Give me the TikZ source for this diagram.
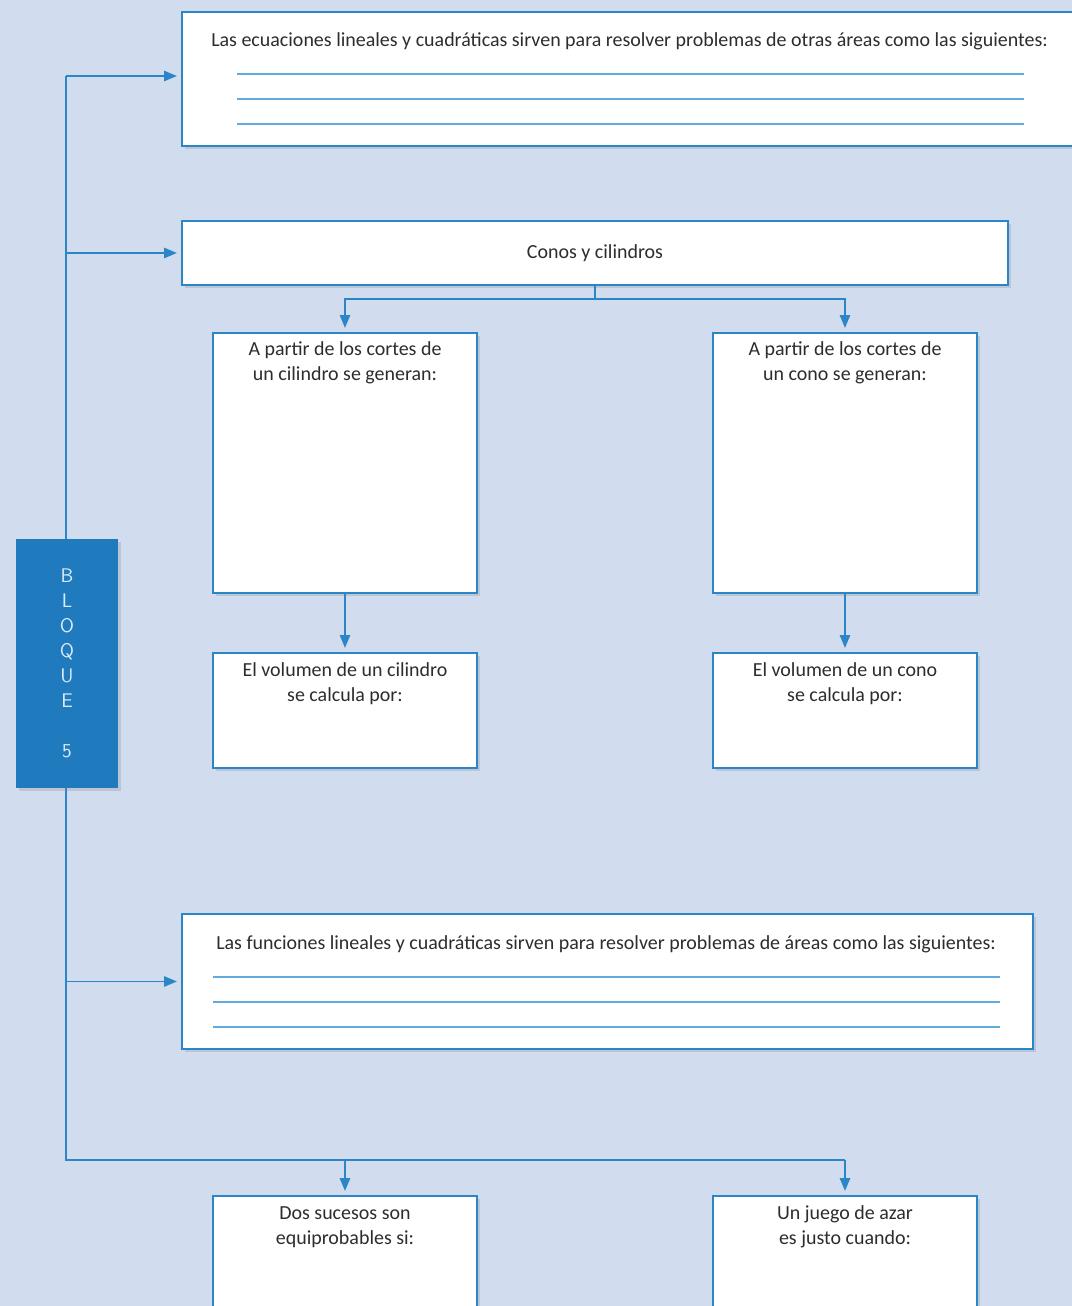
\documentclass[tikz,border=0pt]{standalone}
\usepackage{fontspec}
\setmainfont{Carlito}
\usetikzlibrary{arrows,shadows}

\definecolor{fondo}{RGB}{209,221,239}
\definecolor{azul}{RGB}{42,134,198}
\definecolor{azulbloque}{RGB}{31,123,190}
\definecolor{renglon}{RGB}{96,170,222}
\definecolor{gristexto}{RGB}{45,45,45}

\tikzset{
  caja/.style={rectangle,draw=azul,line width=1.4pt,fill=white,anchor=north west,inner sep=0pt,
    drop shadow={shadow xshift=2pt,shadow yshift=-2pt,opacity=0.25}},
  texto/.style={text=gristexto,font=\fontsize{14.2}{17.8}\selectfont,align=center,inner sep=0pt},
  flecha/.style={draw=azul,line width=1.1pt,-triangle 45,shorten >=3pt},
  linea/.style={draw=azul,line width=1.1pt},
  renglon/.style={draw=renglon,line width=1pt},
}

\begin{document}
\begin{tikzpicture}
\fill[fondo] (0,0) rectangle (26.8,-32.65);
\useasboundingbox (0,0) rectangle (26.8,-32.65);
\clip (0,0) rectangle (26.8,-32.65);

% cajas
\node[caja,minimum width=22.5cm,minimum height=3.35cm] at (4.525,-0.275) (ecuaciones) {};
\node[caja,minimum width=20.65cm,minimum height=1.6cm] at (4.525,-5.5) (conos) {};
\node[caja,minimum width=6.6cm,minimum height=6.5cm] at (5.3,-8.3) (cortescil) {};
\node[caja,minimum width=6.6cm,minimum height=6.5cm] at (17.8,-8.3) (cortescono) {};
\node[caja,minimum width=6.6cm,minimum height=2.875cm] at (5.3,-16.3) (volcil) {};
\node[caja,minimum width=6.6cm,minimum height=2.875cm] at (17.8,-16.3) (volcono) {};
\node[caja,minimum width=21.275cm,minimum height=3.375cm] at (4.525,-22.825) (funciones) {};
\node[caja,minimum width=6.6cm,minimum height=4cm] at (5.3,-29.875) (sucesos) {};
\node[caja,minimum width=6.6cm,minimum height=4cm] at (17.8,-29.875) (juego) {};

% textos
\node[texto,anchor=west] at (5.275,-1.025) (tecuaciones) {Las ecuaciones lineales y cuadráticas sirven para resolver problemas de otras áreas como las siguientes:};
\node[texto] at (conos.center) (tconos) {Conos y cilindros};
\node[texto] at ([yshift=-0.78cm]cortescil.north) (tcortescil) {A partir de los cortes de\\un cilindro se generan:};
\node[texto] at ([yshift=-0.78cm]cortescono.north) (tcortescono) {A partir de los cortes de\\un cono se generan:};
\node[texto] at ([yshift=-0.78cm]volcil.north) (tvolcil) {El volumen de un cilindro\\se calcula por:};
\node[texto] at ([yshift=-0.78cm]volcono.north) (tvolcono) {El volumen de un cono\\se calcula por:};
\node[texto] at (15.15,-23.6) (tfunciones) {Las funciones lineales y cuadráticas sirven para resolver problemas de áreas como las siguientes:};
\node[texto] at ([yshift=-0.8cm]sucesos.north) (tsucesos) {Dos sucesos son\\equiprobables si:};
\node[texto] at ([yshift=-0.8cm]juego.north) (tjuego) {Un juego de azar\\es justo cuando:};

% renglones para escribir
\foreach \y in {-1.85,-2.475,-3.1}
  \draw[renglon] (5.925,\y) -- (25.6,\y);
\foreach \y in {-24.425,-25.05,-25.675}
  \draw[renglon] (5.325,\y) -- (25,\y);

% tronco
\coordinate (arriba) at (1.65,-1.9);
\coordinate (abajo) at (1.65,-29);
\draw[linea] (arriba) -- (abajo) -- (abajo -| juego.north);

\node[fill=azulbloque,minimum width=2.55cm,minimum height=6.225cm,inner sep=0pt,
  drop shadow={shadow xshift=2pt,shadow yshift=-2pt,opacity=0.25},
  text=white!85!azulbloque,align=center,font=\fontsize{14}{17.8}\selectfont\sffamily]
  at (1.675,-16.59) (bloque) {B\\L\\O\\Q\\U\\E\\[17.8pt]5};

% flechas
\draw[flecha] (arriba) -- (arriba -| ecuaciones.west);
\draw[flecha] (conos.west -| arriba) -- (conos.west);
\draw[flecha] (funciones.west -| arriba) -- (funciones.west);
\coordinate (reparto) at (14.85,-7.475);
\draw[linea] (conos.south) -- (conos.south |- reparto);
\draw[flecha] (reparto) -| (cortescil.north);
\draw[flecha] (reparto) -| (cortescono.north);
\draw[flecha] (cortescil.south) -- (volcil.north);
\draw[flecha] (cortescono.south) -- (volcono.north);
\draw[flecha] (abajo -| sucesos.north) -- (sucesos.north);
\draw[flecha] (abajo -| juego.north) -- (juego.north);
\end{tikzpicture}
\end{document}
